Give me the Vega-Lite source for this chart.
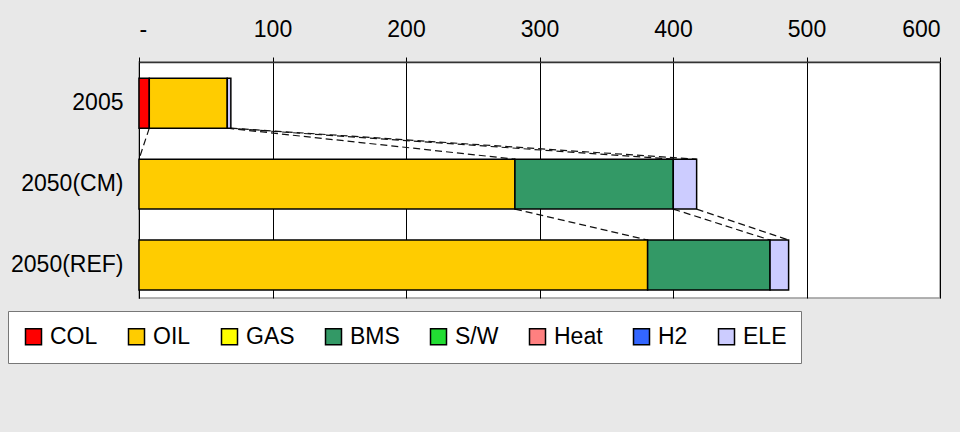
{
  "$schema": "https://vega.github.io/schema/vega-lite/v6.json",
  "autosize": {"type": "none"},
  "width": 801,
  "height": 236,
  "padding": {"left": 139, "top": 62, "right": 20, "bottom": 134},
  "background": "#e8e8e8",
  "config": {
    "view": {"fill": "white", "stroke": "#999999", "strokeWidth": 1.5},
    "font": "Liberation Sans"
  },
  "datasets": {
    "bars": [
      {"cat": "2005", "fuel": "COL", "value": 7.7},
      {"cat": "2005", "fuel": "OIL", "value": 58.4},
      {"cat": "2005", "fuel": "ELE", "value": 2.7},
      {"cat": "2050(CM)", "fuel": "OIL", "value": 281.6},
      {"cat": "2050(CM)", "fuel": "BMS", "value": 118.6},
      {"cat": "2050(CM)", "fuel": "ELE", "value": 17.5},
      {"cat": "2050(REF)", "fuel": "OIL", "value": 381.0},
      {"cat": "2050(REF)", "fuel": "BMS", "value": 91.7},
      {"cat": "2050(REF)", "fuel": "ELE", "value": 13.9}
    ],
    "links": [
      {"from": "2005", "to": "2050(CM)", "start": 7.7, "end": 0},
      {"from": "2005", "to": "2050(CM)", "start": 66.1, "end": 281.6},
      {"from": "2005", "to": "2050(CM)", "start": 66.1, "end": 400.2},
      {"from": "2005", "to": "2050(CM)", "start": 68.8, "end": 417.7},
      {"from": "2050(CM)", "to": "2050(REF)", "start": 281.6, "end": 381.0},
      {"from": "2050(CM)", "to": "2050(REF)", "start": 400.2, "end": 472.7},
      {"from": "2050(CM)", "to": "2050(REF)", "start": 417.7, "end": 486.6}
    ]
  },
  "layer": [
    {
      "data": {"name": "links"},
      "mark": {"type": "rule", "strokeDash": [7, 4], "strokeWidth": 1.2, "color": "#111111"},
      "encoding": {
        "x": {"field": "start", "type": "quantitative", "scale": {"domain": [0, 600]}},
        "x2": {"field": "end"},
        "y": {"field": "from", "type": "nominal", "bandPosition": 1, "scale": {"domain": ["2005", "2050(CM)", "2050(REF)"], "paddingInner": 0.383, "paddingOuter": 0.15, "align": 0.67}},
        "y2": {"field": "to", "bandPosition": 0}
      }
    },
    {
      "data": {"name": "bars"},
      "transform": [
        {"calculate": "indexof(['COL','OIL','GAS','BMS','S/W','Heat','H2','ELE'], datum.fuel)", "as": "fuelOrder"}
      ],
      "mark": {"type": "bar", "stroke": "black", "strokeWidth": 1.5},
      "encoding": {
        "y": {
          "field": "cat", "type": "nominal", "sort": null,
          "scale": {"domain": ["2005", "2050(CM)", "2050(REF)"], "paddingInner": 0.383, "paddingOuter": 0.15, "align": 0.67},
          "axis": {
            "title": null, "ticks": false, "labelPadding": 16, "labelFontSize": 23,
            "labelColor": "black", "domainColor": "black", "domainWidth": 1, "labelFont": "Liberation Sans"
          }
        },
        "x": {
          "field": "value", "type": "quantitative", "stack": "zero",
          "scale": {"domain": [0, 600], "nice": false},
          "axis": {
            "orient": "top", "title": null, "values": [0, 100, 200, 300, 400, 500, 600],
            "labelExpr": "datum.value == 0 ? '-' : datum.label",
            "labelFontSize": 23, "labelColor": "black", "labelFont": "Liberation Sans",
            "labelPadding": 16, "tickSize": 5, "tickColor": "black",
            "domainColor": "#333333", "domainWidth": 1.5,
            "grid": true, "gridColor": "black", "gridWidth": 1, "gridOpacity": 1
          }
        },
        "order": {"field": "fuelOrder", "type": "quantitative", "sort": "ascending"},
        "color": {
          "field": "fuel", "type": "nominal",
          "sort": ["COL", "OIL", "GAS", "BMS", "S/W", "Heat", "H2", "ELE"],
          "scale": {
            "domain": ["COL", "OIL", "GAS", "BMS", "S/W", "Heat", "H2", "ELE"],
            "range": ["#ff0000", "#ffcc00", "#ffff00", "#339966", "#22dd33", "#ff8080", "#3366ff", "#ccccff"]
          },
          "legend": {
            "title": null, "orient": "none", "direction": "horizontal",
            "legendX": -131, "legendY": 249,
            "symbolType": "square", "symbolSize": 256, "symbolStrokeColor": "black", "symbolStrokeWidth": 1.5,
            "labelFontSize": 23, "labelFont": "Liberation Sans", "labelColor": "black", "labelOffset": 5,
            "columnPadding": 27, "padding": 14, "fillColor": "white", "strokeColor": "#777777"
          }
        }
      }
    }
  ]
}
